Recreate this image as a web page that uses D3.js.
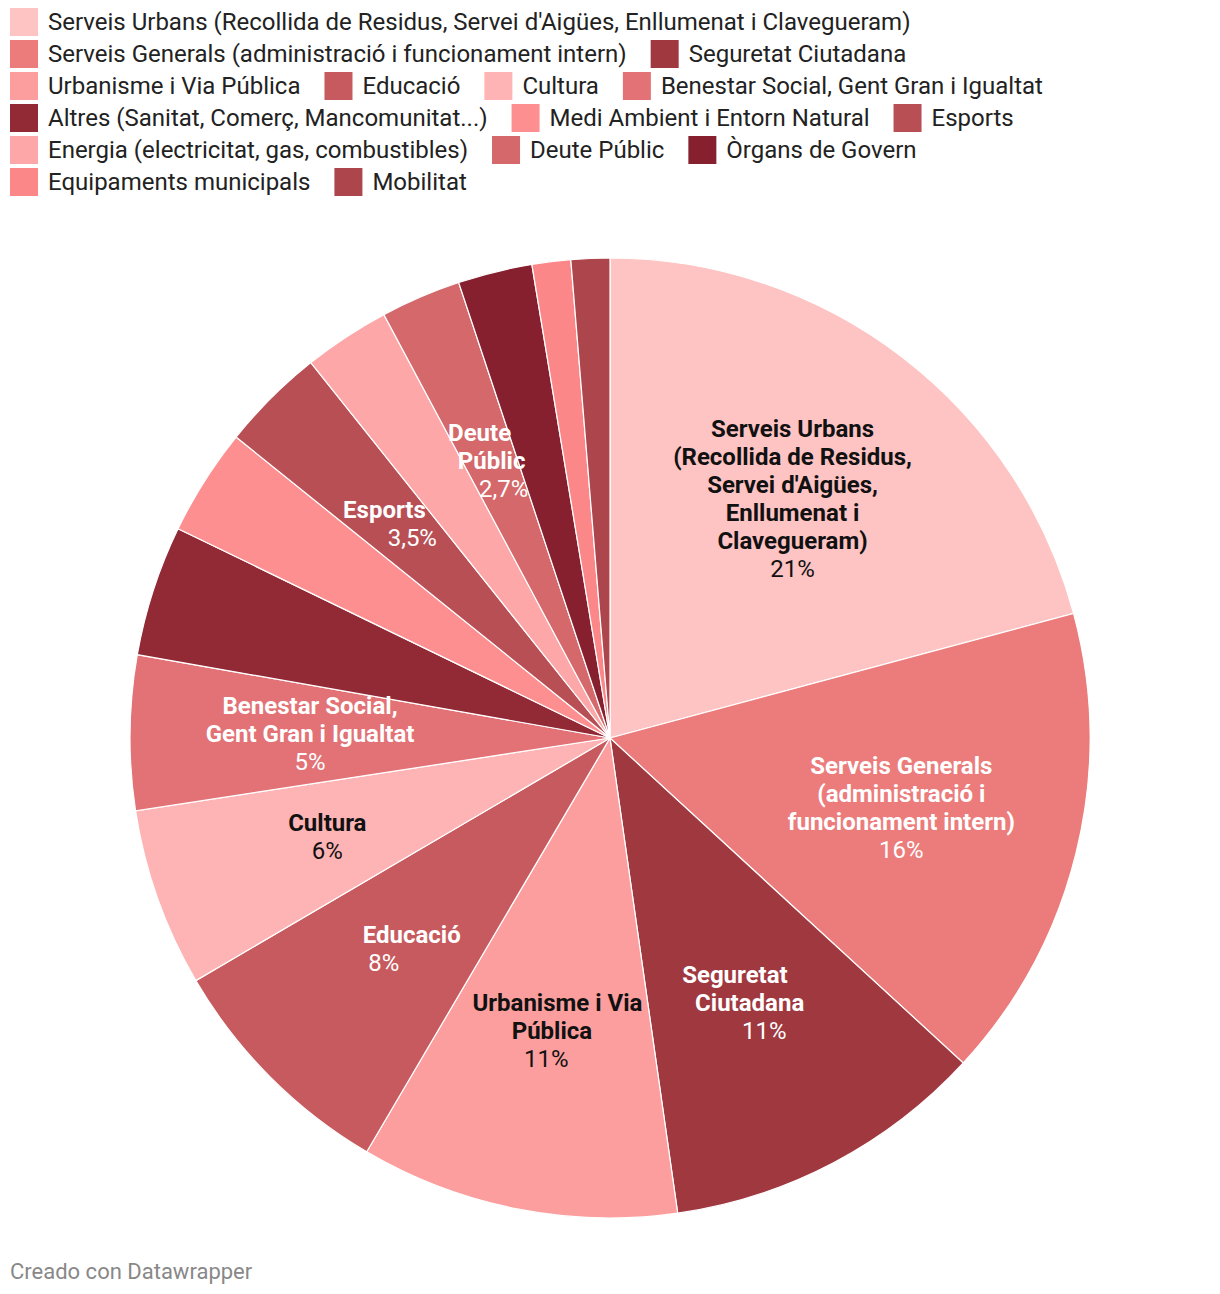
<!DOCTYPE html>
<html>
<head>
<meta charset="utf-8">
<script src="https://cdn.jsdelivr.net/npm/d3@7"></script>
<style>
  html, body { margin: 0; padding: 0; background: #fff; }
  svg text { font-family: Roboto, "Noto Sans", sans-serif; }
</style>
</head>
<body>
<svg id="chart" width="1220" height="1294"></svg>
<script>
const categories = [
  "Serveis Urbans (Recollida de Residus, Servei d'Aigües, Enllumenat i Clavegueram)",
  "Serveis Generals (administració i funcionament intern)",
  "Seguretat Ciutadana",
  "Urbanisme i Via Pública",
  "Educació",
  "Cultura",
  "Benestar Social, Gent Gran i Igualtat",
  "Altres (Sanitat, Comerç, Mancomunitat...)",
  "Medi Ambient i Entorn Natural",
  "Esports",
  "Energia (electricitat, gas, combustibles)",
  "Deute Públic",
  "Òrgans de Govern",
  "Equipaments municipals",
  "Mobilitat"
];
const values = [20.8, 16.0, 10.9, 10.7, 8.1, 6.0, 5.2, 4.4, 3.6, 3.5, 2.9, 2.7, 2.5, 1.3, 1.3];
const colors = ["#fec3c3", "#ec7c7c", "#a03840", "#fc9e9e", "#c75a5e", "#feb4b4", "#e27275",
                "#922a36", "#fe8f91", "#b84f55", "#fea7a8", "#d4686b", "#86202f", "#fc8789", "#ad454d"];
// label lines (wrapped names) and percent texts shown on the pie
const labelLines = [
  ["Serveis Urbans", "(Recollida de Residus,", "Servei d'Aigües,", "Enllumenat i", "Clavegueram)"],
  ["Serveis Generals", "(administració i", "funcionament intern)"],
  ["Seguretat", "Ciutadana"],
  ["Urbanisme i Via", "Pública"],
  ["Educació"],
  ["Cultura"],
  ["Benestar Social,", "Gent Gran i Igualtat"],
  null, null,
  ["Esports"],
  null,
  ["Deute", "Públic"],
  null, null, null
];
const labelPct = ["21%", "16%", "11%", "11%", "8%", "6%", "5%", null, null, "3,5%", null, "2,7%", null, null, null];
const footer = "Creado con Datawrapper";

const svg = d3.select("#chart");

// ----- Legend (flowing) -----
const legend = svg.append("g");
const sw = 28, gapText = 10, gapItem = 24, rowH = 32, x0 = 10, y0 = 8, maxX = 1215;
let x = x0, y = y0;
categories.forEach((c, i) => {
  const g = legend.append("g");
  const t = g.append("text").text(c)
    .attr("font-size", 24).attr("fill", "#222")
    .attr("dominant-baseline", "central");
  const tw = t.node().getComputedTextLength();
  const w = sw + gapText + tw;
  if (x > x0 && x + w > maxX) { x = x0; y += rowH; }
  g.append("rect").attr("x", x).attr("y", y).attr("width", sw).attr("height", sw).attr("fill", colors[i]);
  t.attr("x", x + sw + gapText).attr("y", y + sw / 2);
  x += w + gapItem;
});

// ----- Pie -----
const cx = 610, cy = 738, R = 480, rLabel = 300;
const pie = d3.pie().sort(null).value(d => d)(values);
const arc = d3.arc().innerRadius(0).outerRadius(R);
const pg = svg.append("g").attr("transform", `translate(${cx},${cy})`);
pg.selectAll("path").data(pie).join("path")
  .attr("d", arc)
  .attr("fill", (d, i) => colors[i])
  .attr("stroke", "#fff").attr("stroke-width", 1.2);

// ----- Labels -----
const lh = 28;
pie.forEach((d, i) => {
  if (!labelLines[i]) return;
  const lines = labelLines[i].map(s => ({ s, bold: true }));
  if (labelPct[i]) lines.push({ s: labelPct[i], bold: false });
  const mid = (d.startAngle + d.endAngle) / 2;
  const dx = Math.sin(mid), dy = -Math.cos(mid);
  const span = d.endAngle - d.startAngle;
  const lx = rLabel * dx, ly = rLabel * dy - 1;
  // narrow slices: lines follow the radial direction
  const follow = span < 0.7 && Math.abs(dy) > 0.5;
  const slope = follow ? dx / dy : 0;
  const light = d3.hsl(colors[i]).l > 0.75;
  const fill = light ? "#111111" : "#ffffff";
  const n = lines.length;
  lines.forEach((ln, k) => {
    const off = (k - (n - 1) / 2) * lh;
    pg.append("text")
      .attr("x", lx + off * slope)
      .attr("y", ly + off)
      .attr("text-anchor", "middle")
      .attr("dominant-baseline", "central")
      .attr("font-size", 24)
      .attr("font-weight", ln.bold ? 700 : 400)
      .attr("fill", fill)
      .text(ln.s);
  });
});

// ----- Footer -----
svg.append("text").attr("x", 10).attr("y", 1271)
  .attr("dominant-baseline", "central")
  .attr("font-size", 22).attr("fill", "#888")
  .text(footer);
</script>
</body>
</html>
